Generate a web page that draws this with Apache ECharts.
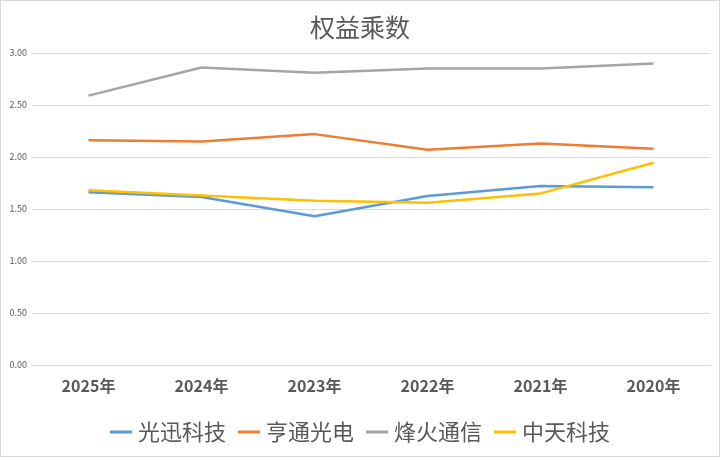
<!DOCTYPE html>
<html><head><meta charset="utf-8">
<script src="https://cdn.jsdelivr.net/npm/echarts@6/dist/echarts.min.js"></script>
<style>html,body{margin:0;padding:0;background:#fff}#c{width:718px;height:455px;border:1px solid #d9d9d9}</style>
</head><body><div id="c"></div>
<script>
const categories = ['2025年','2024年','2023年','2022年','2021年','2020年'];
const seriesNames = ['光迅科技','亨通光电','烽火通信','中天科技'];
const guangxun = [1.66, 1.615, 1.43, 1.625, 1.72, 1.71];
const hengtong = [2.16, 2.15, 2.22, 2.07, 2.13, 2.08];
const fenghuo = [2.59, 2.86, 2.81, 2.85, 2.85, 2.90];
const zhongtian = [1.68, 1.63, 1.58, 1.56, 1.65, 1.945];
const colors = ['#5B9BD5','#ED7D31','#A5A5A5','#FFC000'];
const chart = echarts.init(document.getElementById('c'));
const font = '"Noto Sans CJK SC", sans-serif';
chart.setOption({
  color: colors,
  animation: false,
  title: {text: '权益乘数', left: 'center', top: 9, textStyle: {fontFamily: font, fontSize: 25, fontWeight: 'normal', color: '#595959'}},
  grid: {left: 31, right: 9, top: 52, bottom: 91},
  legend: {bottom: 8, left: 'center', itemWidth: 22, itemHeight: 3, itemGap: 12, icon: 'rect',
    textStyle: {fontFamily: font, fontSize: 22, color: '#595959', padding: [0,0,0,1]},
    data: seriesNames},
  xAxis: {type: 'category', data: categories, boundaryGap: true,
    axisLine: {lineStyle: {color: '#D9D9D9'}}, axisTick: {show: false},
    axisLabel: {fontFamily: font, fontSize: 16, fontWeight: 'bold', color: '#595959', margin: 13}},
  yAxis: {type: 'value', min: 0, max: 3, interval: 0.5,
    axisLabel: {formatter: v => v.toFixed(2), fontFamily: font, fontSize: 9, color: '#595959', margin: 5},
    splitLine: {lineStyle: {color: '#D9D9D9'}}, axisLine: {show: false}, axisTick: {show: false}},
  series: [
    {name: seriesNames[0], type: 'line', data: guangxun},
    {name: seriesNames[1], type: 'line', data: hengtong},
    {name: seriesNames[2], type: 'line', data: fenghuo},
    {name: seriesNames[3], type: 'line', data: zhongtian}
  ].map(s => Object.assign(s, {symbol: 'none', lineStyle: {width: 2.5}}))
});
</script></body></html>
